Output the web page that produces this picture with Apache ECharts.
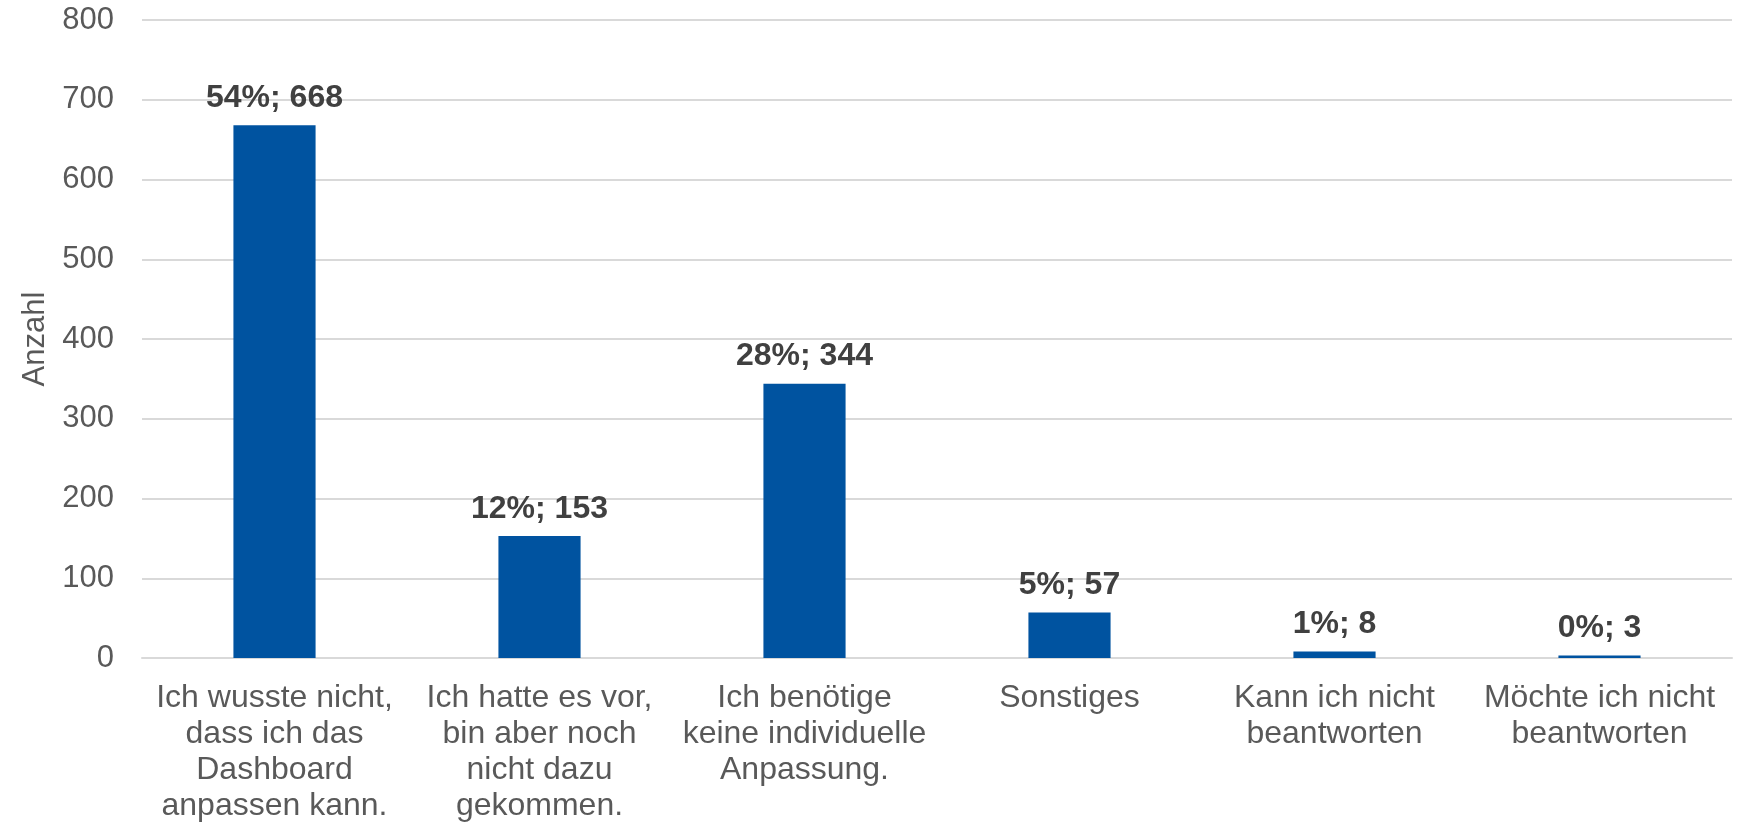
<!DOCTYPE html>
<html>
<head>
<meta charset="utf-8">
<script src="https://cdn.jsdelivr.net/npm/echarts@6/dist/echarts.min.js"></script>
<style>
  html, body { margin: 0; padding: 0; background: #fff; }
  #chart { width: 1752px; height: 824px; }
</style>
</head>
<body>
<div id="chart"></div>
<script>
// antworten
const categories = [
  'Ich wusste nicht,\ndass ich das\nDashboard\nanpassen kann.',
  'Ich hatte es vor,\nbin aber noch\nnicht dazu\ngekommen.',
  'Ich benötige\nkeine individuelle\nAnpassung.',
  'Sonstiges',
  'Kann ich nicht\nbeantworten',
  'Möchte ich nicht\nbeantworten'
];
const counts = [668, 153, 344, 57, 8, 3];
const percents = [54, 12, 28, 5, 1, 0];
const yTicks = [0, 100, 200, 300, 400, 500, 600, 700, 800];

const font = '"Liberation Sans", Arial, sans-serif';
let myChart = echarts.init(document.getElementById('chart'));
myChart.setOption({
  animation: false,
  grid: {
    left: 142,
    right: 20,
    top: 20,
    bottom: 166,
    containLabel: false,
    outerBoundsMode: 'none'
  },
  xAxis: {
    type: 'category',
    data: categories,
    axisTick: { show: false },
    axisLine: {
      lineStyle: { color: '#d9d9d9', width: 2 }
    },
    axisLabel: {
      interval: 0,
      color: '#595959',
      fontFamily: font,
      fontSize: 32,
      lineHeight: 36,
      margin: 22
    }
  },
  yAxis: {
    type: 'value',
    min: yTicks[0],
    max: yTicks[yTicks.length - 1],
    interval: 100,
    name: 'Anzahl',
    nameLocation: 'middle',
    nameGap: 90,
    nameTextStyle: {
      color: '#595959',
      fontFamily: font,
      fontSize: 31
    },
    axisLine: { show: false },
    axisTick: { show: false },
    splitLine: {
      lineStyle: { color: '#d9d9d9', width: 2 }
    },
    axisLabel: {
      color: '#595959',
      fontFamily: font,
      fontSize: 31,
      margin: 28
    }
  },
  series: [
    {
      type: 'bar',
      data: counts,
      barWidth: '31%',
      itemStyle: { color: '#0053a0' },
      label: {
        show: true,
        position: 'top',
        distance: 11,
        color: '#404040',
        fontFamily: font,
        fontSize: 32,
        fontWeight: 'bold',
        formatter: function (p) {
          return percents[p.dataIndex] + '%; ' + p.value;
        }
      }
    }
  ]
});
</script>
</body>
</html>
